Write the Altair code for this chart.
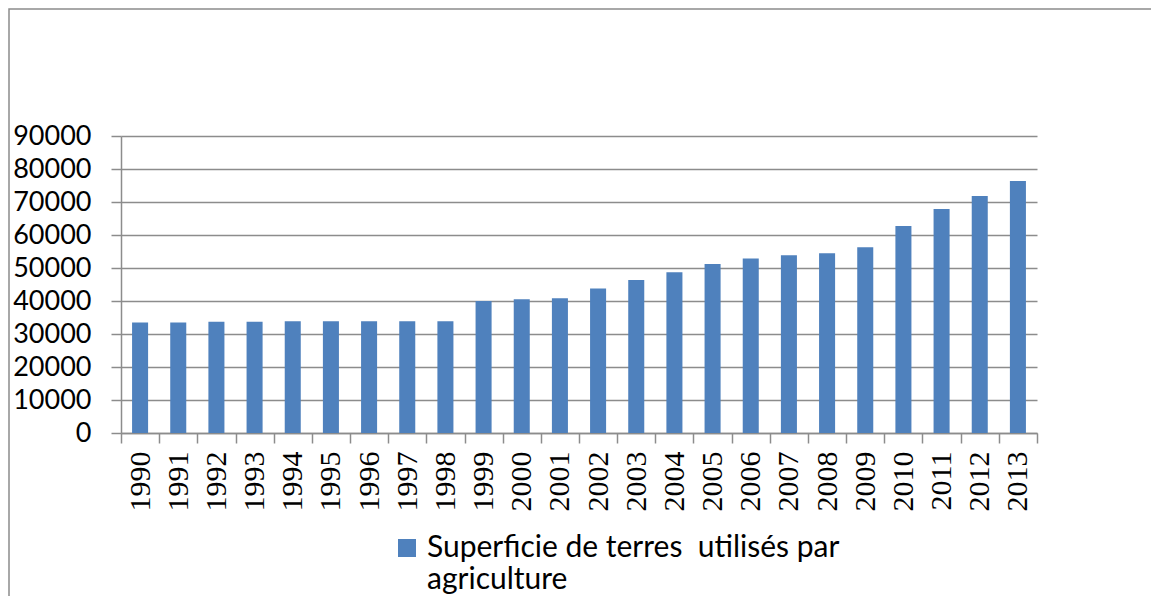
import altair as alt
import pandas as pd

years = ["1990", "1991", "1992", "1993", "1994", "1995", "1996", "1997", "1998", "1999",
         "2000", "2001", "2002", "2003", "2004", "2005", "2006", "2007", "2008", "2009",
         "2010", "2011", "2012", "2013"]
values = [33500, 33500, 33700, 33700, 33900, 33900, 33900, 33900, 33900, 40000,
          40500, 40800, 43800, 46400, 48700, 51200, 52900, 53900, 54500, 56300,
          62700, 67900, 71800, 76400]
y_ticks = [0, 10000, 20000, 30000, 40000, 50000, 60000, 70000, 80000, 90000]
series_name = "Superficie de terres \u00a0utilisés par\nagriculture"

df = pd.DataFrame({"year": years, "value": values, "series": [series_name] * len(years)})

GRAY = "#8c8c8c"
BLUE = "#4F81BD"
SERIF = "Liberation Serif"

frame = alt.Chart(pd.DataFrame({"k": [0]})).mark_rect(
    fill="transparent", stroke=GRAY, strokeWidth=1.5
).encode(
    x=alt.value(-112), y=alt.value(-127), x2=alt.value(1300), y2=alt.value(700)
)

bars = alt.Chart(df).mark_bar(width=alt.RelativeBandSize(0.42)).encode(
    x=alt.X(
        "year:N", sort=years,
        scale=alt.Scale(paddingInner=0, paddingOuter=0),
        axis=alt.Axis(
            title=None, labelAngle=270, labelFont=SERIF, labelFontSize=30,
            labelColor="black", tickBand="extent", tickSize=10, tickColor=GRAY,
            tickWidth=1.5, domainColor=GRAY, domainWidth=1.5, labelPadding=8, grid=False,
        ),
    ),
    y=alt.Y(
        "value:Q",
        scale=alt.Scale(domain=[0, 90000], nice=False),
        axis=alt.Axis(
            title=None, values=y_ticks, format="d", labelFont="Lato", labelFontSize=27,
            labelColor="black", tickSize=10, tickColor=GRAY, tickWidth=1.5,
            domainColor=GRAY, domainWidth=1.5, labelPadding=20,
            gridColor=GRAY, gridWidth=1.5, gridOpacity=1,
        ),
    ),
    color=alt.Color(
        "series:N",
        scale=alt.Scale(range=[BLUE]),
        legend=alt.Legend(
            title=None, orient="none", legendX=271, legendY=397,
            symbolType="square", symbolSize=324, symbolStrokeWidth=0,
            labelFont="Lato", labelFontSize=30, labelColor="black", labelLimit=700,
            labelOffset=5, padding=0,
            labelExpr="split(datum.label, '\\n')",
        ),
    ),
)

chart = alt.layer(frame, bars).properties(
    width=916, height=297,
    padding={"left": 113, "top": 128, "right": 114, "bottom": 163},
    autosize=alt.AutoSizeParams(type="none"),
    background="white",
).configure_view(stroke=None)

chart.save("out.html", embed_options={"renderer": "svg", "actions": False})
